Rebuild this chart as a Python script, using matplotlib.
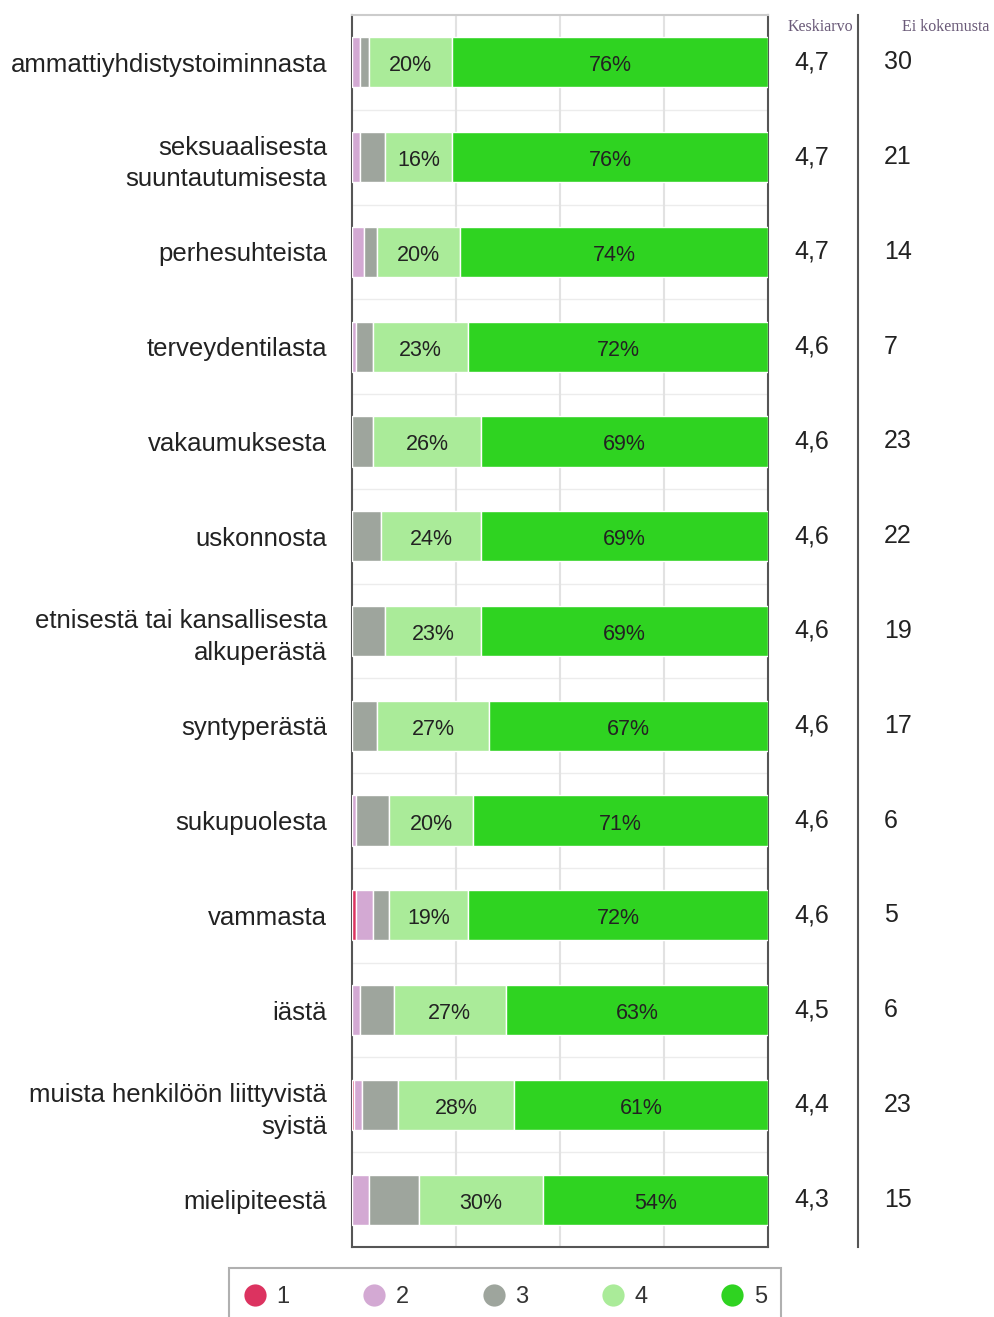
import numpy as np
import matplotlib
matplotlib.use('Agg')
import matplotlib.pyplot as plt
from matplotlib.lines import Line2D
from matplotlib.patches import Rectangle
import matplotlib.transforms as mtransforms

plt.rcParams['font.family'] = ['Liberation Sans', 'DejaVu Sans']

categories = ['ammattiyhdistystoiminnasta', 'seksuaalisesta\nsuuntautumisesta',
              'perhesuhteista', 'terveydentilasta', 'vakaumuksesta', 'uskonnosta',
              'etnisestä tai kansallisesta\nalkuperästä', 'syntyperästä', 'sukupuolesta',
              'vammasta', 'iästä', 'muista henkilöön liittyvistä\nsyistä', 'mielipiteestä']
p1 = [0, 0, 0, 0, 0, 0, 0, 0, 0, 1, 0, 0.5, 0]
p2 = [2, 2, 3, 1, 0, 0, 0, 0, 1, 4, 2, 2, 4]
p3 = [2, 6, 3, 4, 5, 7, 8, 6, 8, 4, 8, 8.5, 12]
p4 = [20, 16, 20, 23, 26, 24, 23, 27, 20, 19, 27, 28, 30]
p5 = [76, 76, 74, 72, 69, 69, 69, 67, 71, 72, 63, 61, 54]
keskiarvo = ['4,7', '4,7', '4,7', '4,6', '4,6', '4,6', '4,6', '4,6', '4,6', '4,6', '4,5', '4,4', '4,3']
ei_kokemusta = [30, 21, 14, 7, 23, 22, 19, 17, 6, 5, 6, 23, 15]
legend_labels = ['1', '2', '3', '4', '5']
colors = ['#dc3360', '#d3a9d3', '#9ea59d', '#aaeb99', '#2fd321']

W, H = 995, 1317
fig = plt.figure(figsize=(W / 100, H / 100), dpi=100)
ax = fig.add_axes([352 / W, 1 - 1247 / H, 416 / W, 1232 / H])

y = np.arange(len(categories))
series = [p1, p2, p3, p4, p5]
left = np.zeros(len(categories))
for i, vals in enumerate(series):
    vals = np.array(vals, dtype=float)
    bars = ax.barh(y, vals, left=left, height=0.53, color=colors[i],
                   edgecolor='white', linewidth=1, zorder=3)
    if i >= 3:
        lbls = ax.bar_label(bars, labels=[f'{v:.0f}%' for v in vals], label_type='center',
                            fontsize=15.5, color='#222222')
        for t in lbls:
            t.xyann = (0, -2.5)
    left += vals

ax.set_xlim(0, 100)
ax.set_ylim(len(categories) - 0.5, -0.5)
ax.set_xticks([25, 50, 75])
ax.set_xticklabels([])
ax.set_yticks(y)
ax.set_yticklabels(categories, fontsize=18.5, color='#222222', linespacing=1.4)
ax.tick_params(axis='both', length=0)
ax.tick_params(axis='y', pad=18)
ax.grid(axis='x', color='#e2e2e2', linewidth=1.5, zorder=0)
for b in np.arange(0.5, len(categories) - 0.5, 1):
    ax.axhline(b, color='#ececec', linewidth=1, zorder=0)

for s in ['left', 'right', 'bottom']:
    ax.spines[s].set_color('#555555')
    ax.spines[s].set_linewidth(1.5)
ax.spines['top'].set_color('#cccccc')
ax.spines['top'].set_linewidth(1.5)

# side columns
tr = mtransforms.blended_transform_factory(fig.transFigure, ax.transData)
for i in range(len(categories)):
    ax.text(812 / W, i, keskiarvo[i], transform=tr, ha='center', va='center',
            fontsize=18, color='#222222')
    ax.text(884 / W, i, str(ei_kokemusta[i]), transform=tr, ha='left', va='center',
            fontsize=18, color='#222222')

fig.add_artist(Line2D([858 / W, 858 / W], [1 - 15 / H, 1 - 1247 / H],
                      color='#555555', linewidth=1.5, transform=fig.transFigure))
fig.text(820 / W, 1 - 27 / H, 'Keskiarvo', ha='center', va='center', fontsize=11.5,
         color='#6a5a78', family=['Liberation Serif'])
fig.text(946 / W, 1 - 27 / H, 'Ei kokemusta', ha='center', va='center', fontsize=11.5,
         color='#6a5a78', family=['Liberation Serif'])

# legend
handles = [Line2D([], [], marker='o', linestyle='', markersize=16, color=c,
                  markeredgewidth=0) for c in colors]
fig.legend(handles, legend_labels, loc='center', bbox_to_anchor=(505 / W, 1 - 1297 / H),
           ncol=5, frameon=False, fontsize=17, handlelength=1.0, handletextpad=0.4,
           columnspacing=3.1, labelcolor='#333333')
fig.add_artist(Rectangle((229 / W, -0.02), 552 / W, (1317 - 1268) / H + 0.02,
                         transform=fig.transFigure, fill=False, edgecolor='#b0b0b0',
                         linewidth=1.5))

fig.savefig('out.png', dpi=100)
